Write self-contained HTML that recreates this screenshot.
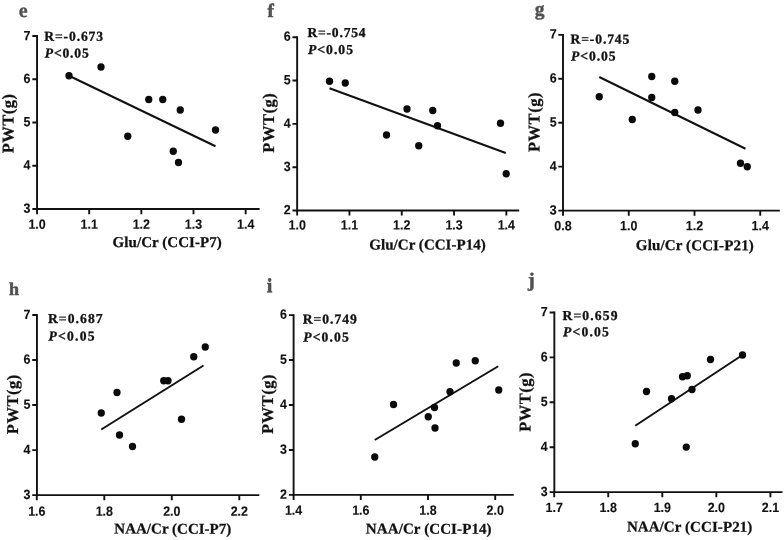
<!DOCTYPE html>
<html lang="en"><head><meta charset="utf-8"><title>Correlation plots</title>
<style>
html,body{margin:0;padding:0;background:#fff;}
svg{display:block;}
.ax{stroke:#111;stroke-width:1.9;fill:none;}
.fit{stroke:#111;stroke-width:2.0;fill:none;}
.pt{fill:#0a0a0a;}
.tk{font-family:'Liberation Sans', sans-serif;font-weight:bold;font-size:26.8px;fill:#111;stroke:#111;stroke-width:0.25;}
.st{font-family:'Liberation Serif', serif;font-weight:bold;font-size:13.6px;fill:#111;stroke:#111;stroke-width:0.3;}
.tt{font-family:'Liberation Serif', serif;font-weight:bold;font-size:15px;fill:#111;stroke:#111;stroke-width:0.25;}
.yl{font-family:'Liberation Serif', serif;font-weight:bold;font-size:16.5px;fill:#111;stroke:#111;stroke-width:0.25;}
.pl{font-family:'Liberation Serif', serif;font-weight:bold;fill:#505050;stroke:#505050;}
</style></head><body>
<svg width="784" height="540" viewBox="0 0 784 540">
<rect width="784" height="540" fill="#fff"/>
<g id="panel-e">
<path class="ax" d="M37.05 35.05V209.05H259.60"/>
<path class="ax" d="M32.35 36.00H37.05M32.35 79.26H37.05M32.35 122.53H37.05M32.35 165.79H37.05M32.35 209.05H37.05M37.05 209.05V214.15M89.20 209.05V214.15M141.35 209.05V214.15M193.50 209.05V214.15M245.65 209.05V214.15"/>
<text class="tk" text-anchor="end" transform="translate(30.45 40.20) rotate(0.03) scale(0.465 0.5)">7</text>
<text class="tk" text-anchor="end" transform="translate(30.45 83.06) rotate(0.03) scale(0.465 0.5)">6</text>
<text class="tk" text-anchor="end" transform="translate(30.45 126.33) rotate(0.03) scale(0.465 0.5)">5</text>
<text class="tk" text-anchor="end" transform="translate(30.45 169.59) rotate(0.03) scale(0.465 0.5)">4</text>
<text class="tk" text-anchor="end" transform="translate(30.45 212.85) rotate(0.03) scale(0.465 0.5)">3</text>
<text class="tk" text-anchor="middle" transform="translate(37.05 228.70) rotate(0.03) scale(0.465 0.5)">1.0</text>
<text class="tk" text-anchor="middle" transform="translate(89.20 228.70) rotate(0.03) scale(0.465 0.5)">1.1</text>
<text class="tk" text-anchor="middle" transform="translate(141.35 228.70) rotate(0.03) scale(0.465 0.5)">1.2</text>
<text class="tk" text-anchor="middle" transform="translate(193.50 228.70) rotate(0.03) scale(0.465 0.5)">1.3</text>
<text class="tk" text-anchor="middle" transform="translate(245.65 228.70) rotate(0.03) scale(0.465 0.5)">1.4</text>
<text class="st" transform="translate(44.20 40.75) rotate(0.03)" letter-spacing="0.886">R=-0.673</text>
<text class="st" transform="translate(44.80 57.50) rotate(0.03)" letter-spacing="0.808"><tspan font-style="italic">P</tspan>&lt;0.05</text>
<text class="tt" transform="translate(112.60 247.00) rotate(0.03)" letter-spacing="0.049">Glu/Cr (CCI-P7)</text>
<text class="yl" transform="translate(13.50 153.30) rotate(-89.97)" letter-spacing="0.515">PWT(g)</text>
<text class="pl" transform="translate(18.80 17.00) rotate(0.03)" font-size="20" stroke-width="0.3">e</text>
<path class="fit" d="M69.00 75.75L215.50 146.25"/>
<circle class="pt" cx="69.00" cy="75.75" r="3.65"/>
<circle class="pt" cx="101.00" cy="67.00" r="3.65"/>
<circle class="pt" cx="148.75" cy="99.50" r="3.65"/>
<circle class="pt" cx="162.75" cy="99.50" r="3.65"/>
<circle class="pt" cx="180.25" cy="110.00" r="3.65"/>
<circle class="pt" cx="127.75" cy="136.25" r="3.65"/>
<circle class="pt" cx="173.25" cy="151.25" r="3.65"/>
<circle class="pt" cx="178.50" cy="162.50" r="3.65"/>
<circle class="pt" cx="215.50" cy="130.00" r="3.65"/>
</g>
<g id="panel-f">
<path class="ax" d="M297.15 36.25V210.50H519.20"/>
<path class="ax" d="M292.45 37.20H297.15M292.45 80.53H297.15M292.45 123.85H297.15M292.45 167.18H297.15M292.45 210.50H297.15M297.15 210.50V215.60M349.45 210.50V215.60M401.75 210.50V215.60M454.05 210.50V215.60M506.35 210.50V215.60"/>
<text class="tk" text-anchor="end" transform="translate(290.55 40.70) rotate(0.03) scale(0.465 0.5)">6</text>
<text class="tk" text-anchor="end" transform="translate(290.55 84.33) rotate(0.03) scale(0.465 0.5)">5</text>
<text class="tk" text-anchor="end" transform="translate(290.55 127.65) rotate(0.03) scale(0.465 0.5)">4</text>
<text class="tk" text-anchor="end" transform="translate(290.55 170.98) rotate(0.03) scale(0.465 0.5)">3</text>
<text class="tk" text-anchor="end" transform="translate(290.55 214.30) rotate(0.03) scale(0.465 0.5)">2</text>
<text class="tk" text-anchor="middle" transform="translate(297.15 229.40) rotate(0.03) scale(0.465 0.5)">1.0</text>
<text class="tk" text-anchor="middle" transform="translate(349.45 229.40) rotate(0.03) scale(0.465 0.5)">1.1</text>
<text class="tk" text-anchor="middle" transform="translate(401.75 229.40) rotate(0.03) scale(0.465 0.5)">1.2</text>
<text class="tk" text-anchor="middle" transform="translate(454.05 229.40) rotate(0.03) scale(0.465 0.5)">1.3</text>
<text class="tk" text-anchor="middle" transform="translate(506.35 229.40) rotate(0.03) scale(0.465 0.5)">1.4</text>
<text class="st" transform="translate(307.45 37.00) rotate(0.03)" letter-spacing="0.778">R=-0.754</text>
<text class="st" transform="translate(308.05 54.10) rotate(0.03)" letter-spacing="1.008"><tspan font-style="italic">P</tspan>&lt;0.05</text>
<text class="tt" transform="translate(369.35 249.50) rotate(0.03)" letter-spacing="0.029">Glu/Cr (CCI-P14)</text>
<text class="yl" transform="translate(273.90 152.70) rotate(-89.97)" letter-spacing="0.515">PWT(g)</text>
<text class="pl" transform="translate(267.50 16.90) rotate(0.03)" font-size="19" stroke-width="0.6">f</text>
<path class="fit" d="M329.50 88.25L505.75 153.00"/>
<circle class="pt" cx="329.50" cy="81.25" r="3.65"/>
<circle class="pt" cx="345.25" cy="83.00" r="3.65"/>
<circle class="pt" cx="407.00" cy="109.00" r="3.65"/>
<circle class="pt" cx="432.75" cy="110.50" r="3.65"/>
<circle class="pt" cx="437.50" cy="125.75" r="3.65"/>
<circle class="pt" cx="500.50" cy="123.25" r="3.65"/>
<circle class="pt" cx="386.50" cy="135.00" r="3.65"/>
<circle class="pt" cx="418.75" cy="145.75" r="3.65"/>
<circle class="pt" cx="506.25" cy="173.75" r="3.65"/>
</g>
<g id="panel-g">
<path class="ax" d="M563.00 33.95V210.60H779.85"/>
<path class="ax" d="M558.30 34.90H563.00M558.30 78.82H563.00M558.30 122.75H563.00M558.30 166.67H563.00M558.30 210.60H563.00M563.00 210.60V215.70M628.75 210.60V215.70M694.50 210.60V215.70M760.25 210.60V215.70"/>
<text class="tk" text-anchor="end" transform="translate(556.70 38.60) rotate(0.03) scale(0.465 0.5)">7</text>
<text class="tk" text-anchor="end" transform="translate(556.70 82.62) rotate(0.03) scale(0.465 0.5)">6</text>
<text class="tk" text-anchor="end" transform="translate(556.70 126.55) rotate(0.03) scale(0.465 0.5)">5</text>
<text class="tk" text-anchor="end" transform="translate(556.70 170.47) rotate(0.03) scale(0.465 0.5)">4</text>
<text class="tk" text-anchor="end" transform="translate(556.70 214.40) rotate(0.03) scale(0.465 0.5)">3</text>
<text class="tk" text-anchor="middle" transform="translate(563.00 230.30) rotate(0.03) scale(0.465 0.5)">0.8</text>
<text class="tk" text-anchor="middle" transform="translate(628.75 230.30) rotate(0.03) scale(0.465 0.5)">1.0</text>
<text class="tk" text-anchor="middle" transform="translate(694.50 230.30) rotate(0.03) scale(0.465 0.5)">1.2</text>
<text class="tk" text-anchor="middle" transform="translate(760.25 230.30) rotate(0.03) scale(0.465 0.5)">1.4</text>
<text class="st" transform="translate(570.45 43.60) rotate(0.03)" letter-spacing="0.886">R=-0.745</text>
<text class="st" transform="translate(571.05 60.40) rotate(0.03)" letter-spacing="0.908"><tspan font-style="italic">P</tspan>&lt;0.05</text>
<text class="tt" transform="translate(635.85 250.10) rotate(0.03)" letter-spacing="0.129">Glu/Cr (CCI-P21)</text>
<text class="yl" transform="translate(539.40 152.00) rotate(-89.97)" letter-spacing="0.515">PWT(g)</text>
<text class="pl" transform="translate(534.70 15.30) rotate(0.03)" font-size="19.5" stroke-width="0.4">g</text>
<path class="fit" d="M599.25 77.00L745.50 148.75"/>
<circle class="pt" cx="599.25" cy="96.75" r="3.65"/>
<circle class="pt" cx="651.75" cy="76.50" r="3.65"/>
<circle class="pt" cx="674.75" cy="81.25" r="3.65"/>
<circle class="pt" cx="651.75" cy="97.50" r="3.65"/>
<circle class="pt" cx="674.75" cy="112.50" r="3.65"/>
<circle class="pt" cx="698.00" cy="110.00" r="3.65"/>
<circle class="pt" cx="632.25" cy="119.50" r="3.65"/>
<circle class="pt" cx="740.50" cy="163.25" r="3.65"/>
<circle class="pt" cx="747.25" cy="166.75" r="3.65"/>
</g>
<g id="panel-h">
<path class="ax" d="M36.95 314.05V495.10H259.30"/>
<path class="ax" d="M32.25 315.00H36.95M32.25 360.02H36.95M32.25 405.05H36.95M32.25 450.08H36.95M32.25 495.10H36.95M36.80 495.10V500.20M104.30 495.10V500.20M171.80 495.10V500.20M239.30 495.10V500.20"/>
<text class="tk" text-anchor="end" transform="translate(30.35 318.90) rotate(0.03) scale(0.465 0.5)">7</text>
<text class="tk" text-anchor="end" transform="translate(30.35 363.82) rotate(0.03) scale(0.465 0.5)">6</text>
<text class="tk" text-anchor="end" transform="translate(30.35 408.85) rotate(0.03) scale(0.465 0.5)">5</text>
<text class="tk" text-anchor="end" transform="translate(30.35 453.88) rotate(0.03) scale(0.465 0.5)">4</text>
<text class="tk" text-anchor="end" transform="translate(30.35 498.90) rotate(0.03) scale(0.465 0.5)">3</text>
<text class="tk" text-anchor="middle" transform="translate(36.80 515.70) rotate(0.03) scale(0.465 0.5)">1.6</text>
<text class="tk" text-anchor="middle" transform="translate(104.30 515.70) rotate(0.03) scale(0.465 0.5)">1.8</text>
<text class="tk" text-anchor="middle" transform="translate(171.80 515.70) rotate(0.03) scale(0.465 0.5)">2.0</text>
<text class="tk" text-anchor="middle" transform="translate(239.30 515.70) rotate(0.03) scale(0.465 0.5)">2.2</text>
<text class="st" transform="translate(47.95 322.95) rotate(0.03)" letter-spacing="1.080">R=0.687</text>
<text class="st" transform="translate(48.55 340.50) rotate(0.03)" letter-spacing="1.208"><tspan font-style="italic">P</tspan>&lt;0.05</text>
<text class="tt" transform="translate(114.35 533.60) rotate(0.03)" letter-spacing="0.008">NAA/Cr (CCI-P7)</text>
<text class="yl" transform="translate(18.10 434.20) rotate(-89.97)" letter-spacing="0.515">PWT(g)</text>
<text class="pl" transform="translate(9.10 295.00) rotate(0.03)" font-size="18" stroke-width="0.6">h</text>
<path class="fit" d="M101.25 429.50L203.50 365.50"/>
<circle class="pt" cx="117.00" cy="392.50" r="3.65"/>
<circle class="pt" cx="163.75" cy="380.75" r="3.65"/>
<circle class="pt" cx="168.00" cy="380.75" r="3.65"/>
<circle class="pt" cx="193.75" cy="356.75" r="3.65"/>
<circle class="pt" cx="205.25" cy="347.00" r="3.65"/>
<circle class="pt" cx="101.25" cy="413.00" r="3.65"/>
<circle class="pt" cx="119.50" cy="435.00" r="3.65"/>
<circle class="pt" cx="132.50" cy="446.50" r="3.65"/>
<circle class="pt" cx="181.50" cy="419.25" r="3.65"/>
</g>
<g id="panel-i">
<path class="ax" d="M293.60 314.15V494.90H513.75"/>
<path class="ax" d="M288.90 315.10H293.60M288.90 360.05H293.60M288.90 405.00H293.60M288.90 449.95H293.60M288.90 494.90H293.60M293.60 494.90V500.00M360.80 494.90V500.00M428.00 494.90V500.00M495.20 494.90V500.00"/>
<text class="tk" text-anchor="end" transform="translate(287.00 318.80) rotate(0.03) scale(0.465 0.5)">6</text>
<text class="tk" text-anchor="end" transform="translate(287.00 363.85) rotate(0.03) scale(0.465 0.5)">5</text>
<text class="tk" text-anchor="end" transform="translate(287.00 408.80) rotate(0.03) scale(0.465 0.5)">4</text>
<text class="tk" text-anchor="end" transform="translate(287.00 453.75) rotate(0.03) scale(0.465 0.5)">3</text>
<text class="tk" text-anchor="end" transform="translate(287.00 498.70) rotate(0.03) scale(0.465 0.5)">2</text>
<text class="tk" text-anchor="middle" transform="translate(293.60 514.70) rotate(0.03) scale(0.465 0.5)">1.4</text>
<text class="tk" text-anchor="middle" transform="translate(360.80 514.70) rotate(0.03) scale(0.465 0.5)">1.6</text>
<text class="tk" text-anchor="middle" transform="translate(428.00 514.70) rotate(0.03) scale(0.465 0.5)">1.8</text>
<text class="tk" text-anchor="middle" transform="translate(495.20 514.70) rotate(0.03) scale(0.465 0.5)">2.0</text>
<text class="st" transform="translate(302.70 323.50) rotate(0.03)" letter-spacing="0.996">R=0.749</text>
<text class="st" transform="translate(303.30 341.40) rotate(0.03)" letter-spacing="1.108"><tspan font-style="italic">P</tspan>&lt;0.05</text>
<text class="tt" transform="translate(365.85 533.60) rotate(0.03)" letter-spacing="0.097">NAA/Cr (CCI-P14)</text>
<text class="yl" transform="translate(273.10 434.00) rotate(-89.97)" letter-spacing="0.515">PWT(g)</text>
<text class="pl" transform="translate(266.80 292.30) rotate(0.03)" font-size="20" stroke-width="0.6">i</text>
<path class="fit" d="M374.75 440.00L498.25 366.25"/>
<circle class="pt" cx="456.25" cy="363.00" r="3.65"/>
<circle class="pt" cx="475.25" cy="360.75" r="3.65"/>
<circle class="pt" cx="450.00" cy="391.75" r="3.65"/>
<circle class="pt" cx="498.75" cy="390.00" r="3.65"/>
<circle class="pt" cx="393.50" cy="404.50" r="3.65"/>
<circle class="pt" cx="434.50" cy="407.50" r="3.65"/>
<circle class="pt" cx="428.25" cy="416.75" r="3.65"/>
<circle class="pt" cx="435.00" cy="428.00" r="3.65"/>
<circle class="pt" cx="374.75" cy="457.00" r="3.65"/>
</g>
<g id="panel-j">
<path class="ax" d="M554.35 311.55V492.15H782.50"/>
<path class="ax" d="M549.65 312.50H554.35M549.65 357.41H554.35M549.65 402.32H554.35M549.65 447.24H554.35M549.65 492.15H554.35M554.20 492.15V497.25M608.25 492.15V497.25M662.30 492.15V497.25M716.35 492.15V497.25M770.40 492.15V497.25"/>
<text class="tk" text-anchor="end" transform="translate(547.75 316.30) rotate(0.03) scale(0.465 0.5)">7</text>
<text class="tk" text-anchor="end" transform="translate(547.75 361.21) rotate(0.03) scale(0.465 0.5)">6</text>
<text class="tk" text-anchor="end" transform="translate(547.75 406.12) rotate(0.03) scale(0.465 0.5)">5</text>
<text class="tk" text-anchor="end" transform="translate(547.75 451.04) rotate(0.03) scale(0.465 0.5)">4</text>
<text class="tk" text-anchor="end" transform="translate(547.75 495.95) rotate(0.03) scale(0.465 0.5)">3</text>
<text class="tk" text-anchor="middle" transform="translate(554.20 512.00) rotate(0.03) scale(0.465 0.5)">1.7</text>
<text class="tk" text-anchor="middle" transform="translate(608.25 512.00) rotate(0.03) scale(0.465 0.5)">1.8</text>
<text class="tk" text-anchor="middle" transform="translate(662.30 512.00) rotate(0.03) scale(0.465 0.5)">1.9</text>
<text class="tk" text-anchor="middle" transform="translate(716.35 512.00) rotate(0.03) scale(0.465 0.5)">2.0</text>
<text class="tk" text-anchor="middle" transform="translate(770.40 512.00) rotate(0.03) scale(0.465 0.5)">2.1</text>
<text class="st" transform="translate(562.45 320.00) rotate(0.03)" letter-spacing="1.163">R=0.659</text>
<text class="st" transform="translate(563.05 336.20) rotate(0.03)" letter-spacing="1.158"><tspan font-style="italic">P</tspan>&lt;0.05</text>
<text class="tt" transform="translate(626.90 531.60) rotate(0.03)" letter-spacing="0.074">NAA/Cr (CCI-P21)</text>
<text class="yl" transform="translate(530.40 431.80) rotate(-89.97)" letter-spacing="0.515">PWT(g)</text>
<text class="pl" transform="translate(527.90 286.40) rotate(0.03)" font-size="20" stroke-width="0.5">j</text>
<path class="fit" d="M635.25 425.75L742.50 355.00"/>
<circle class="pt" cx="742.50" cy="355.00" r="3.65"/>
<circle class="pt" cx="710.50" cy="359.50" r="3.65"/>
<circle class="pt" cx="682.50" cy="376.75" r="3.65"/>
<circle class="pt" cx="687.25" cy="375.75" r="3.65"/>
<circle class="pt" cx="692.00" cy="389.50" r="3.65"/>
<circle class="pt" cx="646.50" cy="391.50" r="3.65"/>
<circle class="pt" cx="671.50" cy="398.75" r="3.65"/>
<circle class="pt" cx="635.25" cy="443.75" r="3.65"/>
<circle class="pt" cx="686.25" cy="447.10" r="3.65"/>
</g>
</svg>
</body></html>
